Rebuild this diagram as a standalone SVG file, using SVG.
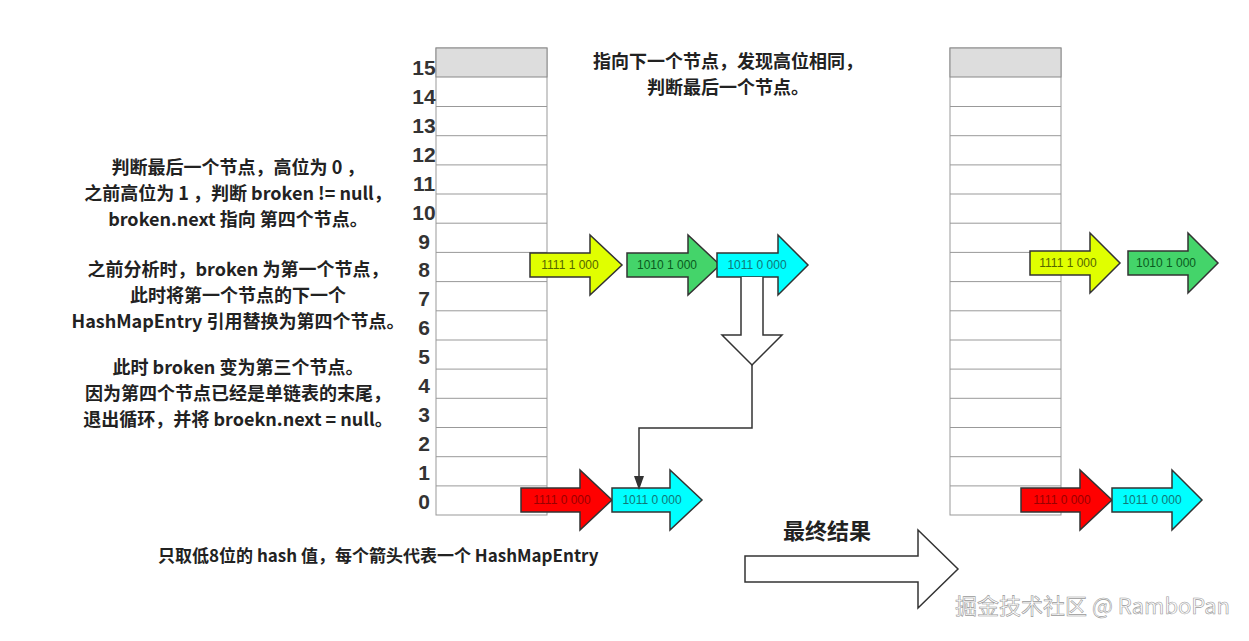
<svg xmlns="http://www.w3.org/2000/svg" width="1249" height="641" viewBox="0 0 1249 641">
<style>
.t{font-family:"Noto Sans CJK SC","Liberation Sans",sans-serif;font-weight:bold;font-size:18px;fill:#222}
.n{font-family:"Liberation Sans",sans-serif;font-weight:bold;font-size:21px;fill:#333;text-anchor:middle}
.cell{fill:#fff;stroke:#999;stroke-width:1}
.a{stroke:#333;stroke-width:1.5}
.l{font-family:"Liberation Sans",sans-serif;font-size:12px;text-anchor:middle}
</style>
<rect width="1249" height="641" fill="#fff"/>
<g id="tableL">
<rect x="436" y="48" width="111" height="467" class="cell" stroke="#888"/>
<rect x="436" y="48" width="111" height="29" fill="#ddd" stroke="#888"/>
<path d="M436 106.5H547M436 135.7H547M436 164.9H547M436 194H547M436 223.2H547M436 252.4H547M436 281.6H547M436 310.8H547M436 340H547M436 369.1H547M436 398.3H547M436 427.5H547M436 456.7H547M436 485.9H547" stroke="#999" fill="none"/>
</g>
<g id="tableR">
<rect x="950" y="48" width="111" height="467" class="cell" stroke="#888"/>
<rect x="950" y="48" width="111" height="29" fill="#ddd" stroke="#888"/>
<path d="M950 106.5H1061M950 135.7H1061M950 164.9H1061M950 194H1061M950 223.2H1061M950 252.4H1061M950 281.6H1061M950 310.8H1061M950 340H1061M950 369.1H1061M950 398.3H1061M950 427.5H1061M950 456.7H1061M950 485.9H1061" stroke="#999" fill="none"/>
</g>
<g id="indices">
<text class="n" x="424" y="75">15</text><text class="n" x="424" y="104">14</text><text class="n" x="424" y="133">13</text><text class="n" x="424" y="162">12</text><text class="n" x="424" y="191">11</text><text class="n" x="424" y="220">10</text><text class="n" x="424" y="249">9</text><text class="n" x="424" y="277">8</text><text class="n" x="424" y="306">7</text><text class="n" x="424" y="335">6</text><text class="n" x="424" y="364">5</text><text class="n" x="424" y="393">4</text><text class="n" x="424" y="422">3</text><text class="n" x="424" y="451">2</text><text class="n" x="424" y="480">1</text><text class="n" x="424" y="509">0</text>
</g>
<g id="n1"><path class="a" fill="#e0ff00" d="M530 253H590V235L622 265L590 295V277H530Z"/><text class="l" x="570" y="269" fill="#556600">1111 1 000</text></g>
<g id="n2"><path class="a" fill="#44d46a" d="M627 253H688V235L720 265L688 295V277H627Z"/><text class="l" x="667" y="269" fill="#0a5a20">1010 1 000</text></g>
<g id="n3"><path class="a" fill="#00ffff" d="M717 253H778V235L808 265L778 295V277H717Z"/><text class="l" x="757" y="269" fill="#117777">1011 0 000</text></g>
<g id="n4"><path class="a" fill="#ff0000" d="M521 488H580V470L612 500L580 530V512H521Z"/><text class="l" x="562" y="504" fill="#990000">1111 0 000</text></g>
<g id="n5"><path class="a" fill="#00ffff" d="M612 488H670V470L702 500L670 530V512H612Z"/><text class="l" x="652" y="504" fill="#117777">1011 0 000</text></g>
<g id="r1"><path class="a" fill="#e0ff00" d="M1030 251H1090V233L1120 263L1090 293V275H1030Z"/><text class="l" x="1068" y="267" fill="#556600">1111 1 000</text></g>
<g id="r2"><path class="a" fill="#44d46a" d="M1128 251H1188V233L1218 263L1188 293V275H1128Z"/><text class="l" x="1166" y="267" fill="#0a5a20">1010 1 000</text></g>
<g id="r3"><path class="a" fill="#ff0000" d="M1021 488H1080V470L1112 500L1080 530V512H1021Z"/><text class="l" x="1062" y="504" fill="#990000">1111 0 000</text></g>
<g id="r4"><path class="a" fill="#00ffff" d="M1112 488H1172V470L1202 500L1172 530V512H1112Z"/><text class="l" x="1152" y="504" fill="#117777">1011 0 000</text></g>
<g id="connectors">
<path d="M741 277V335H722L752 365L782 335H763V277" fill="#fff" stroke="#333" stroke-width="1.5"/>
<path d="M752 365V428H639V478" fill="none" stroke="#333" stroke-width="1.5"/>
<path d="M634 476L639 490L644 476Z" fill="#333"/>
<path d="M745 556H918V530L958 569L918 608V582H745Z" fill="#fff" stroke="#333" stroke-width="1.5"/>
</g>
<g id="texts">
<text class="t" text-anchor="middle"><tspan x="728" y="68">指向下一个节点，发现高位相同，</tspan><tspan x="728" y="94">判断最后一个节点。</tspan></text>
<text class="t" text-anchor="middle"><tspan x="238" y="174">判断最后一个节点，高位为 0 ，</tspan><tspan x="238" y="200">之前高位为 1 ，判断 broken != null，</tspan><tspan x="238" y="226">broken.next 指向 第四个节点。</tspan><tspan x="238" y="276">之前分析时，broken 为第一个节点，</tspan><tspan x="238" y="302">此时将第一个节点的下一个</tspan><tspan x="238" y="328">HashMapEntry 引用替换为第四个节点。</tspan><tspan x="238" y="374">此时 broken 变为第三个节点。</tspan><tspan x="238" y="400">因为第四个节点已经是单链表的末尾，</tspan><tspan x="238" y="426">退出循环，并将 broekn.next = null。</tspan></text>
<text class="t" x="158" y="562" style="font-size:17px">只取低8位的 hash 值，每个箭头代表一个 HashMapEntry</text>
<text class="t" x="783" y="539" style="font-size:22px">最终结果</text>
<text x="1230" y="614" text-anchor="end" style="font-family:'Noto Sans CJK SC','Liberation Sans',sans-serif;font-size:22px;fill:#fff;stroke:#999;stroke-width:0.6">掘金技术社区 @ RamboPan</text>
</g>
</svg>
